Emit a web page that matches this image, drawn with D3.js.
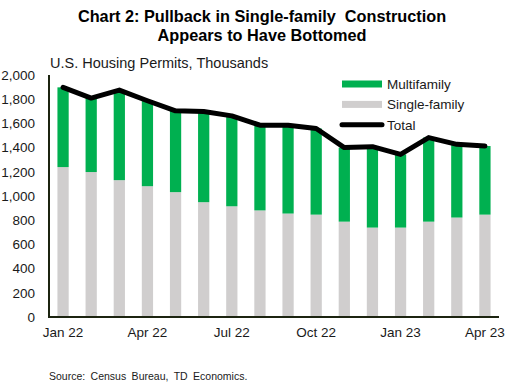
<!DOCTYPE html>
<html>
<head>
<meta charset="utf-8">
<script src="https://cdn.jsdelivr.net/npm/d3@7"></script>
<style>
  body { margin: 0; background: #fff; }
  svg { display: block; font-family: Arial, "Liberation Sans", sans-serif; }
</style>
</head>
<body>
<div id="chart"></div>
<script>
// monthly permits, thousands
const months = ['Jan 22', 'Feb 22', 'Mar 22', 'Apr 22', 'May 22', 'Jun 22', 'Jul 22', 'Aug 22',
  'Sep 22', 'Oct 22', 'Nov 22', 'Dec 22', 'Jan 23', 'Feb 23', 'Mar 23', 'Apr 23'];
const singleFamily = [1239, 1198, 1131, 1081, 1032, 949, 915, 881, 855, 846, 788, 739, 739, 788, 822, 846];
const multiFamily = [659, 611, 744, 706, 672, 750, 747, 704, 730, 712, 612, 669, 605, 695, 605, 567];
const total = [1898, 1809, 1875, 1787, 1704, 1699, 1662, 1585, 1585, 1558, 1400, 1408, 1344, 1483, 1427, 1413];
const xTickLabels = ['Jan 22', 'Apr 22', 'Jul 22', 'Oct 22', 'Jan 23', 'Apr 23'];
const yTicks = [0, 200, 400, 600, 800, 1000, 1200, 1400, 1600, 1800, 2000];

const W = 516, H = 386;
const margin = { left: 49, right: 17, top: 75, bottom: 69 };

const svg = d3.select('#chart').append('svg')
  .attr('width', W)
  .attr('height', H);

const x = d3.scaleBand()
  .domain(months)
  .range([margin.left, W - margin.right])
  .paddingInner(0.6)
  .paddingOuter(0.3);

const y = d3.scaleLinear()
  .domain([0, 2000])
  .range([H - margin.bottom, margin.top]);

// title
const title = svg.append('text')
  .attr('text-anchor', 'middle')
  .style('font-weight', 'bold')
  .style('font-size', '16.3px')
  .style('white-space', 'pre')
  .attr('fill', '#000');
title.append('tspan').attr('x', 262).attr('y', 21.5).text('Chart 2: Pullback in Single-family  Construction');
title.append('tspan').attr('x', 262).attr('y', 40.5).text('Appears to Have Bottomed');

svg.append('text')
  .attr('x', 50)
  .attr('y', 68)
  .style('font-size', '14.5px')
  .attr('fill', '#1a1a1a')
  .text('U.S. Housing Permits, Thousands');

// stacked bars
const rows = months.map((m, i) => ({ month: m, single: singleFamily[i], multi: multiFamily[i] }));
const stack = d3.stack().keys(['single', 'multi'])(rows);
const colors = { single: '#d0cece', multi: '#00b050' };

svg.selectAll('g.layer')
  .data(stack)
  .enter()
  .append('g')
  .attr('class', 'layer')
  .attr('fill', d => colors[d.key])
  .selectAll('rect')
  .data(d => d)
  .enter()
  .append('rect')
  .attr('x', d => x(d.data.month))
  .attr('y', d => y(d[1]))
  .attr('width', x.bandwidth())
  .attr('height', d => y(d[0]) - y(d[1]));

// total line
const line = d3.line()
  .x((d, i) => x(months[i]) + x.bandwidth() / 2)
  .y(d => y(d));

svg.append('path')
  .datum(total)
  .attr('d', line)
  .attr('fill', 'none')
  .attr('stroke', '#000')
  .attr('stroke-width', 5)
  .attr('stroke-linejoin', 'round')
  .attr('stroke-linecap', 'round');

// axes
const yAxis = svg.append('g')
  .attr('transform', `translate(${margin.left},0)`)
  .call(d3.axisLeft(y).tickValues(yTicks).tickSize(0).tickPadding(14).tickFormat(d3.format(',')));
yAxis.select('.domain').remove();
yAxis.selectAll('text').style('font-size', '13.5px').attr('fill', '#1a1a1a').style('font-family', 'Arial, "Liberation Sans", sans-serif');

const xAxis = svg.append('g')
  .attr('transform', `translate(0,${H - margin.bottom})`)
  .call(d3.axisBottom(x).tickValues(xTickLabels).tickSize(0).tickPadding(10));
xAxis.select('.domain').remove();
xAxis.selectAll('text').style('font-size', '13.5px').attr('fill', '#1a1a1a').style('font-family', 'Arial, "Liberation Sans", sans-serif');

svg.append('line')
  .attr('x1', margin.left).attr('x2', margin.left)
  .attr('y1', y(2000)).attr('y2', y(0) + 1)
  .attr('stroke', '#1c2410').attr('stroke-width', 2);
svg.append('line')
  .attr('x1', margin.left - 1).attr('x2', W - margin.right)
  .attr('y1', y(0)).attr('y2', y(0))
  .attr('stroke', '#1c2410').attr('stroke-width', 2);

// legend
const legendItems = [
  { label: 'Multifamily', color: colors.multi, type: 'bar' },
  { label: 'Single-family', color: colors.single, type: 'bar' },
  { label: 'Total', color: '#000', type: 'line' }
];
const legend = svg.append('g').attr('transform', 'translate(342,84)');
legendItems.forEach((item, i) => {
  const g = legend.append('g').attr('transform', `translate(0,${i * 20.4})`);
  if (item.type === 'bar') {
    g.append('rect').attr('x', 0).attr('y', -3.5).attr('width', 40).attr('height', 7).attr('fill', item.color);
  } else {
    g.append('line').attr('x1', 0).attr('x2', 40).attr('y1', 0).attr('y2', 0)
      .attr('stroke', item.color).attr('stroke-width', 5).attr('stroke-linecap', 'round');
  }
  g.append('text')
    .attr('x', 45)
    .attr('y', 0)
    .attr('dy', '0.35em')
    .style('font-size', '13.5px')
    .attr('fill', '#1a1a1a')
    .text(item.label);
});

svg.append('text')
  .attr('x', 49)
  .attr('y', 380)
  .style('font-size', '10.5px')
  .style('word-spacing', '2.5px')
  .attr('fill', '#1a1a1a')
  .text('Source: Census Bureau, TD Economics.');
</script>
</body>
</html>
